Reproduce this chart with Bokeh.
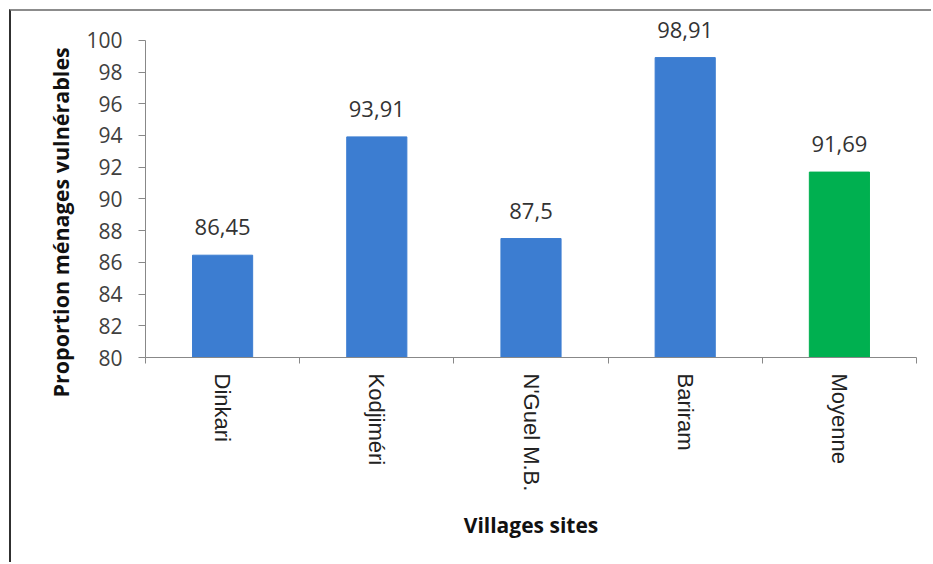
from bokeh.plotting import figure
from bokeh.models import ColumnDataSource, Range1d, FixedTicker, LabelSet, Title
from bokeh.core.properties import value
from bokeh.embed import file_html
from bokeh.resources import INLINE

villages = ["Dinkari", "Kodjiméri", "N'Guel M.B.", "Bariram", "Moyenne"]
proportions = [86.45, 93.91, 87.5, 98.91, 91.69]
bar_colors = ["#3C7DD1", "#3C7DD1", "#3C7DD1", "#3C7DD1", "#00B050"]
y_ticks = [80, 82, 84, 86, 88, 90, 92, 94, 96, 98, 100]

xpos = [i + 0.5 for i in range(len(villages))]
labels = [("%g" % v).replace(".", ",") for v in proportions]

src = ColumnDataSource(dict(x=xpos, top=proportions, color=bar_colors, label=labels))

p = figure(width=922, height=553, output_backend="svg", toolbar_location=None,
           x_range=Range1d(0, len(villages)), y_range=Range1d(80, 101.5),
           min_border_left=134, min_border_right=17, min_border_top=5, min_border_bottom=207)
p.styles = {"border-left": "2px solid #303030", "border-top": "2px solid #8c8c8c",
            "margin-left": "9px", "margin-top": "9px"}

p.vbar(x="x", top="top", bottom=80, width=0.39, color="color", source=src)

p.add_layout(LabelSet(x="x", y="top", text="label", source=src, y_offset=20,
                      text_align="center", text_baseline="alphabetic",
                      text_font=value("Open Sans"), text_font_size="22px", text_color="#333333"))

p.grid.visible = False
p.outline_line_color = None
p.background_fill_color = "white"

# y axis
ya = p.yaxis[0]
ya.bounds = (80, 100)
ya.ticker = FixedTicker(ticks=y_ticks)
ya.axis_line_color = "#888888"
ya.major_tick_line_color = "#888888"
ya.major_tick_in = 0
ya.major_tick_out = 7
ya.minor_tick_line_color = None
ya.major_label_standoff = 16
ya.major_label_text_font = "Open Sans"
ya.major_label_text_font_size = "21px"
ya.major_label_text_color = "#404040"

ytitle = Title(text="Proportion ménages vulnérables", align="left", offset=-40, standoff=17,
               text_font="Open Sans", text_font_style="bold", text_font_size="21.5px",
               text_color="#111111")
p.add_layout(ytitle, "left")

# x axis
xa = p.xaxis[0]
xa.ticker = FixedTicker(ticks=xpos, minor_ticks=list(range(len(villages) + 1)))
xa.major_label_overrides = {x: v for x, v in zip(xpos, villages)}
xa.major_label_orientation = "vertical"
xa.axis_line_color = "#888888"
xa.major_tick_line_color = None
xa.major_tick_in = 0
xa.major_tick_out = 0
xa.minor_tick_line_color = "#888888"
xa.minor_tick_in = 0
xa.minor_tick_out = 6
xa.major_label_standoff = 10
xa.major_label_text_font = "Liberation Sans"
xa.major_label_text_font_size = "22px"
xa.major_label_text_color = "#222222"
xa.axis_label = "Villages sites"
xa.axis_label_text_font = "Open Sans"
xa.axis_label_text_font_style = "bold"
xa.axis_label_text_font_size = "21px"
xa.axis_label_text_color = "#111111"
xa.axis_label_standoff = 17

open("out.html", "w").write(file_html(p, INLINE))
